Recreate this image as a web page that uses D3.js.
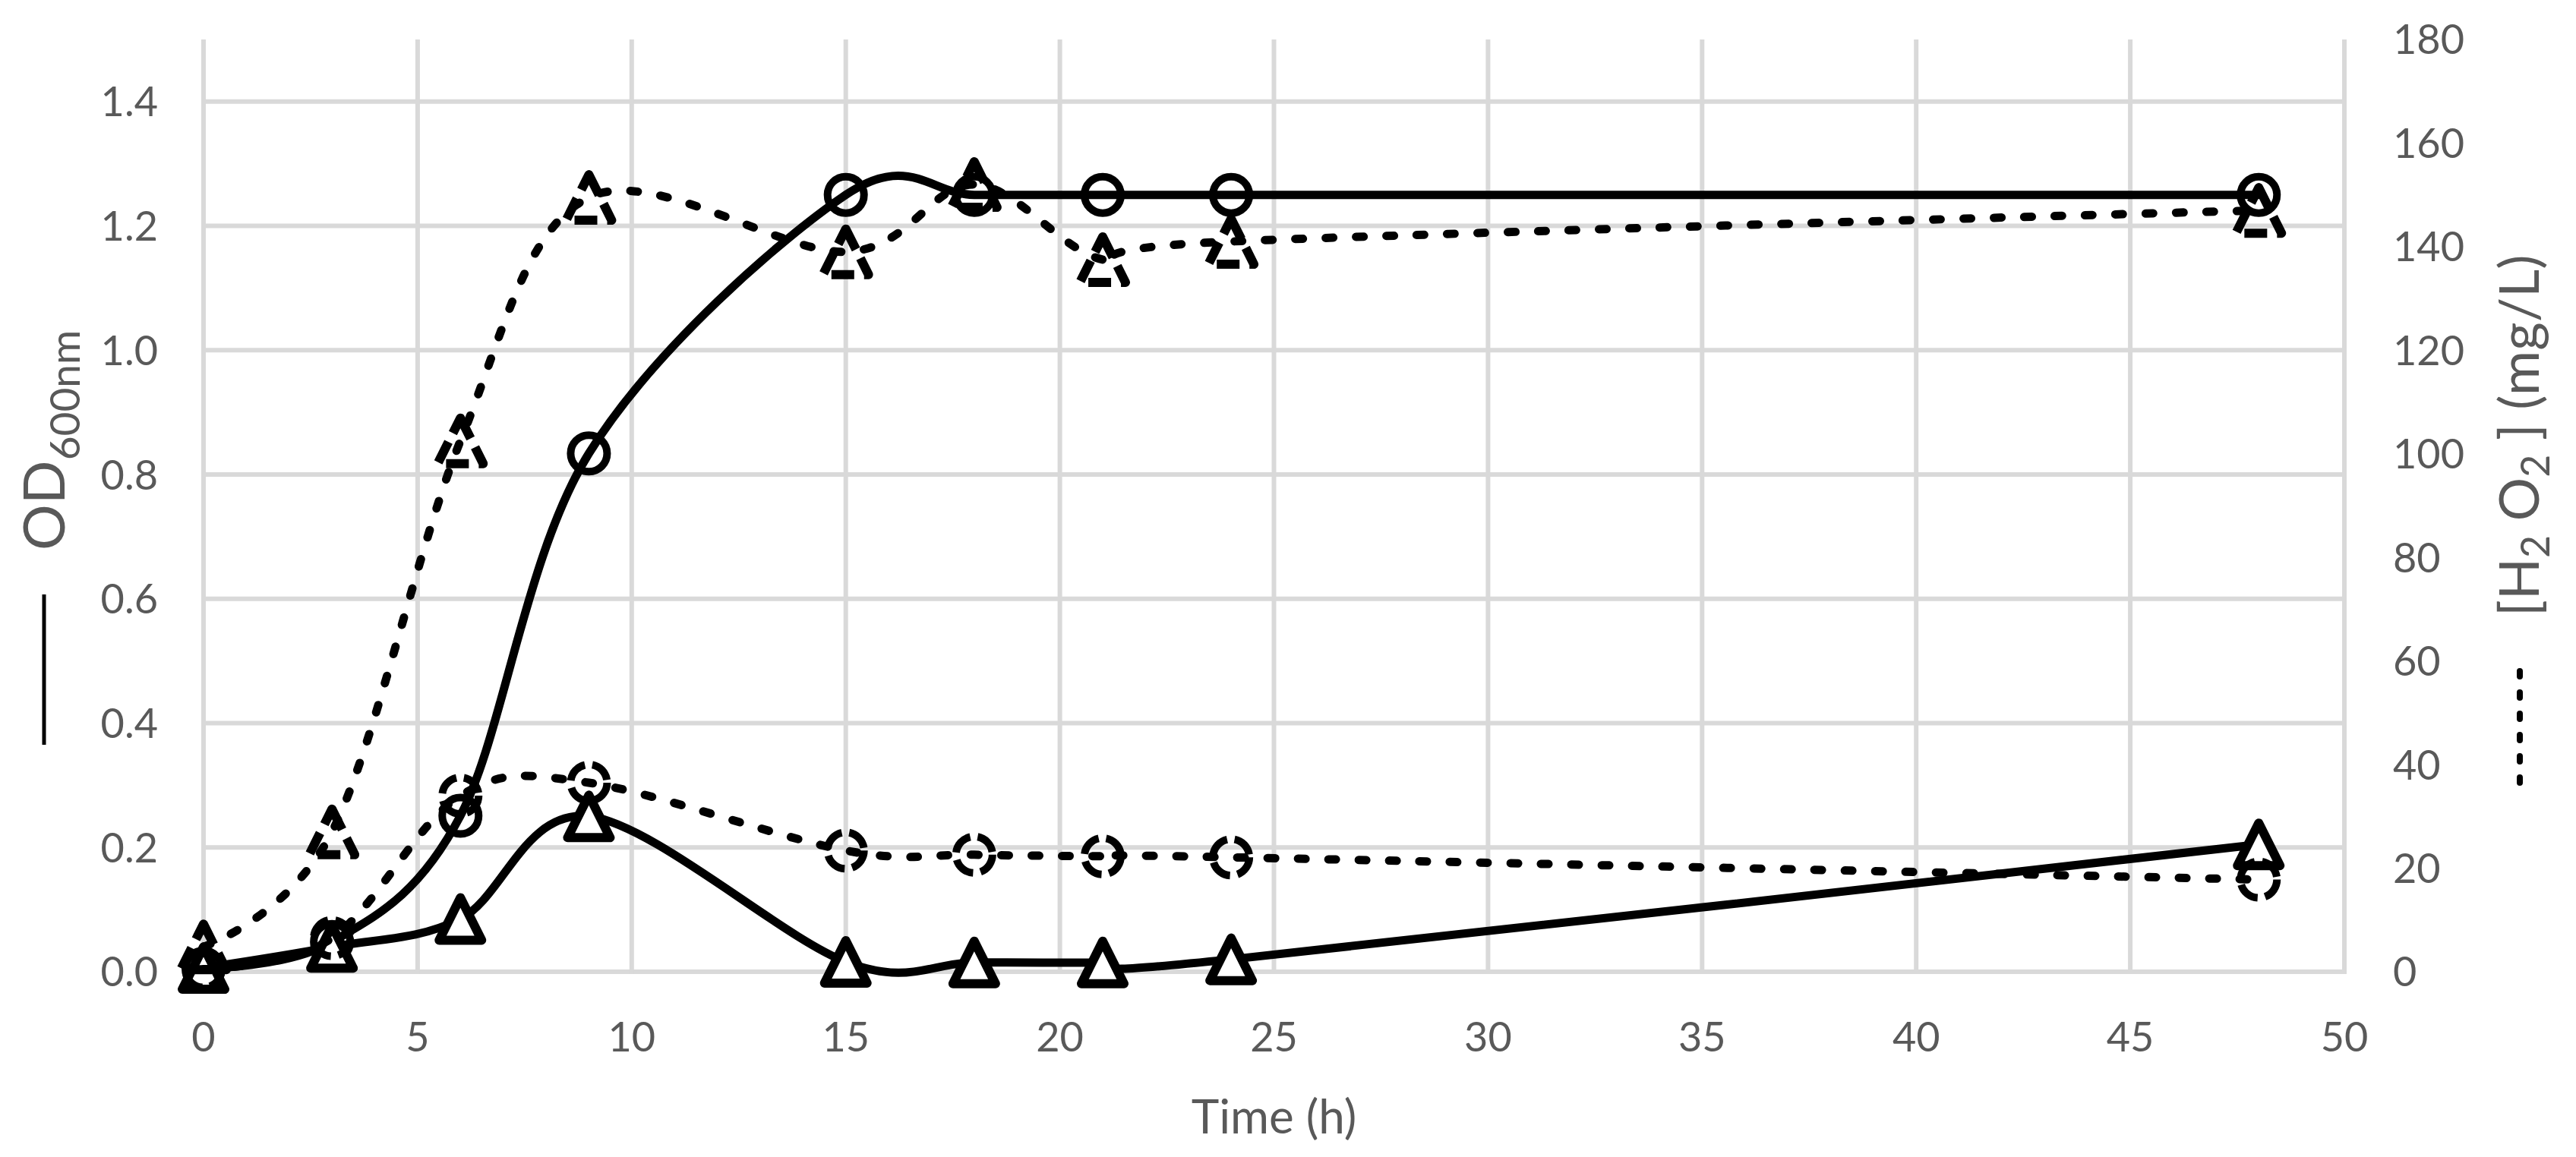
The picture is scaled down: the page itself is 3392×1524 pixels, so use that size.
<!DOCTYPE html>
<html>
<head>
<meta charset="utf-8">
<script src="https://cdn.jsdelivr.net/npm/d3@7"></script>
<style>
  body { margin: 0; background: #fff; }
  svg { display: block; font-family: Lato, "Open Sans", sans-serif; }
</style>
</head>
<body>
<svg id="chart"></svg>
<script>
// sampling times (h)
const time = [0, 3, 6, 9, 15, 18, 21, 24, 48];
// OD600nm (left axis)
const odCircle   = [0.005, 0.048, 0.251, 0.834, 1.25, 1.25, 1.25, 1.25, 1.25];
const odTriangle = [0.006, 0.04, 0.085, 0.25, 0.016, 0.015, 0.015, 0.02, 0.205];
// [H2O2] mg/L (right axis)
const h2o2Triangle = [4.8, 27, 102.5, 149.5, 139, 152, 137.5, 141, 147];
const h2o2Circle   = [0.5, 6.5, 34, 36.5, 23.4, 22.6, 22.3, 22.1, 17.8];

const xTicks = [0, 5, 10, 15, 20, 25, 30, 35, 40, 45, 50];
const leftTicks = [0, 0.2, 0.4, 0.6, 0.8, 1.0, 1.2, 1.4];
const rightTicks = [0, 20, 40, 60, 80, 100, 120, 140, 160, 180];

const W = 3392, H = 1524;
const plot = {left: 268, right: 3087, top: 52, bottom: 1280};
const grey = "#595959", gridCol = "#d9d9d9";

const svg = d3.select("#chart").attr("width", W).attr("height", H);
svg.append("rect").attr("width", W).attr("height", H).attr("fill", "#fff");

const x = d3.scaleLinear().domain([0, 50]).range([plot.left, plot.right]);
const yL = d3.scaleLinear().domain([0, 1.5]).range([plot.bottom, plot.top]);
const yR = d3.scaleLinear().domain([0, 180]).range([plot.bottom, plot.top]);

// grid
const grid = svg.append("g").attr("stroke", gridCol).attr("stroke-width", 6);
grid.selectAll("line.h").data(leftTicks).join("line")
  .attr("x1", plot.left).attr("x2", plot.right)
  .attr("y1", d => yL(d)).attr("y2", d => yL(d));
grid.selectAll("line.v").data(xTicks).join("line")
  .attr("x1", d => x(d)).attr("x2", d => x(d))
  .attr("y1", plot.top).attr("y2", plot.bottom + 3);

// tick labels
const tickFont = 54;
svg.append("g").selectAll("text").data(leftTicks).join("text")
  .attr("x", 208).attr("y", d => yL(d)).attr("dy", "0.36em")
  .attr("text-anchor", "end").attr("font-size", tickFont).attr("fill", grey)
  .text(d3.format(".1f"));
svg.append("g").selectAll("text").data(rightTicks).join("text")
  .attr("x", 3151).attr("y", d => yR(d)).attr("dy", "0.36em")
  .attr("text-anchor", "start").attr("font-size", tickFont).attr("fill", grey)
  .text(d => d);
svg.append("g").selectAll("text").data(xTicks).join("text")
  .attr("x", d => x(d)).attr("y", plot.bottom + 86).attr("dy", "0.36em")
  .attr("text-anchor", "middle").attr("font-size", tickFont).attr("fill", grey)
  .text(d => d);

// axis titles
svg.append("text").attr("x", (plot.left + plot.right) / 2).attr("y", 1493)
  .attr("text-anchor", "middle").attr("font-size", 62).attr("fill", grey)
  .text("Time (h)");

const leftTitle = svg.append("g").attr("transform", "translate(0,981) rotate(-90)");
leftTitle.append("line").attr("x1", 0).attr("x2", 198).attr("y1", 58).attr("y2", 58)
  .attr("stroke", "#000").attr("stroke-width", 5);
const lt = leftTitle.append("text").attr("x", 256).attr("y", 85).attr("fill", grey).attr("font-size", 76);
lt.append("tspan").text("OD");
lt.append("tspan").attr("font-size", 55).attr("dy", 20).text("600nm");

const rightTitle = svg.append("g").attr("transform", "translate(0,1035) rotate(-90)");
rightTitle.append("line").attr("x1", 4).attr("x2", 151).attr("y1", 3318).attr("y2", 3318)
  .attr("stroke", "#000").attr("stroke-width", 8)
  .attr("stroke-dasharray", "7 21").attr("stroke-linecap", "round");
const rt = rightTitle.append("text").attr("x", 223).attr("y", 3343).attr("fill", grey).attr("font-size", 72);
rt.append("tspan").text("[H");
rt.append("tspan").attr("font-size", 52).attr("dy", 14).text("2");
rt.append("tspan").attr("dy", -14).text(" O");
rt.append("tspan").attr("font-size", 52).attr("dy", 14).text("2");
rt.append("tspan").attr("dy", -14).text(" ] (mg/L)");

// series
const curve = d3.curveCardinal.tension(0);
const series = [
  {vals: odCircle, y: yL, dashed: false, marker: "circle", fill: "none", sw: 10},
  {vals: odTriangle, y: yL, dashed: false, marker: "triangle", fill: "#fff", tri: [56, 56], sw: 12},
  {vals: h2o2Triangle, y: yR, dashed: true, marker: "triangle", fill: "none", tri: [60, 60], sw: 12},
  {vals: h2o2Circle, y: yR, dashed: true, marker: "circle", fill: "none", sw: 10}
];

series.forEach(s => {
  const pts = time.map((t, i) => [t, s.vals[i]]);
  const line = d3.line().x(d => x(d[0])).y(d => s.y(d[1])).curve(curve);
  const g = svg.append("g");
  g.append("path").attr("d", line(pts))
    .attr("fill", "none").attr("stroke", "#000").attr("stroke-width", 11)
    .attr("stroke-linecap", "round").attr("stroke-linejoin", "round")
    .attr("stroke-dasharray", s.dashed ? "10 30" : null);
  const m = g.selectAll(".m").data(pts).join(s.marker === "circle" ? "circle" : "path")
    .attr("fill", s.fill).attr("stroke", "#000").attr("stroke-width", s.sw)
    .attr("stroke-dasharray", s.dashed ? (s.marker === "circle" ? "29 10" : "30 13") : null);
  if (s.marker === "circle") {
    m.attr("cx", d => x(d[0])).attr("cy", d => s.y(d[1])).attr("r", 24);
  } else {
    const [w, h] = s.tri;
    m.attr("d", d => {
      const cx = x(d[0]), cy = s.y(d[1]);
      return `M${cx},${cy - h / 2}L${cx + w / 2},${cy + h / 2}L${cx - w / 2},${cy + h / 2}Z`;
    }).attr("stroke-linejoin", "round");
  }
});
</script>
</body>
</html>
